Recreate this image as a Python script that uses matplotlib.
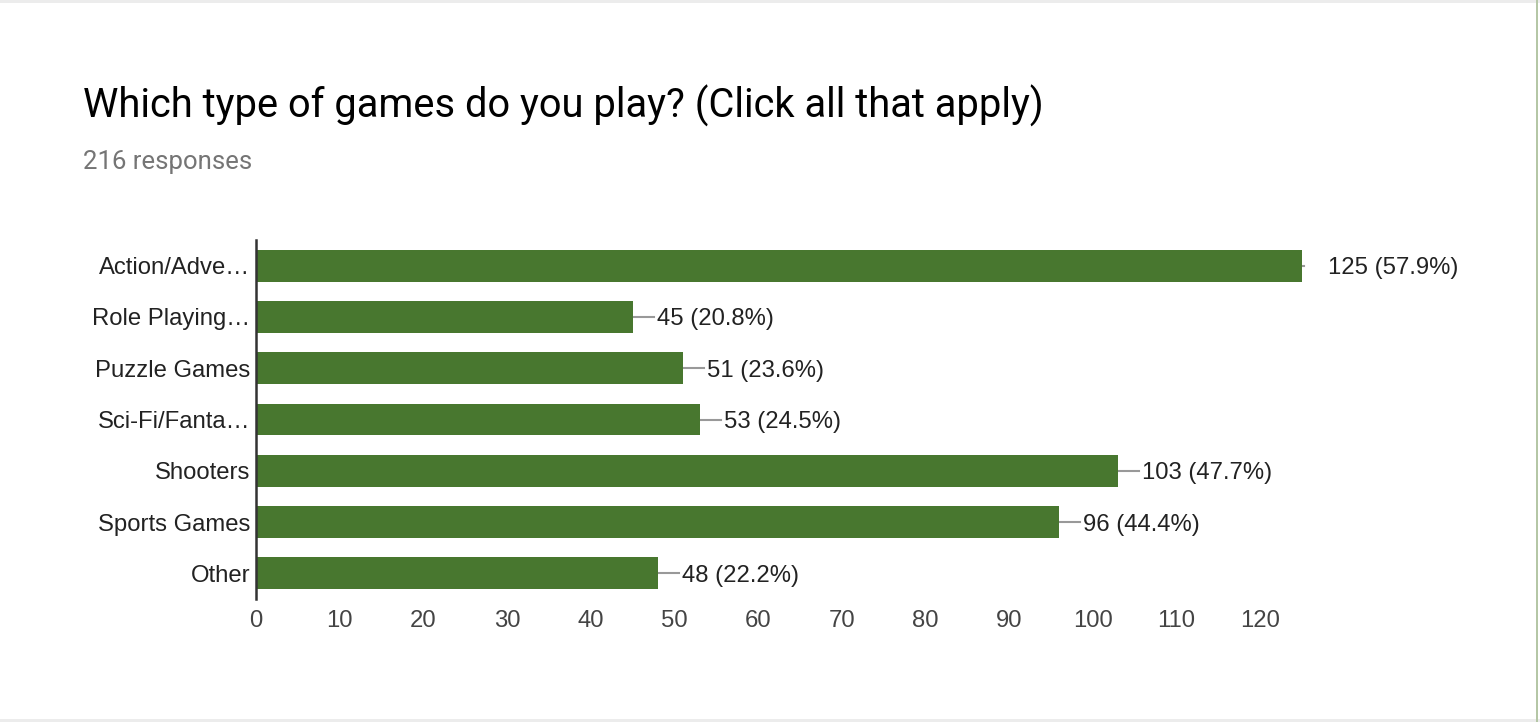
import matplotlib
matplotlib.use("Agg")
import matplotlib.pyplot as plt
from matplotlib.patches import Rectangle
from matplotlib.lines import Line2D

categories = ["Action/Adve…", "Role Playing…", "Puzzle Games", "Sci-Fi/Fanta…",
              "Shooters", "Sports Games", "Other"]
counts = [125, 45, 51, 53, 103, 96, 48]
percents = [57.9, 20.8, 23.6, 24.5, 47.7, 44.4, 22.2]
x_ticks = [0, 10, 20, 30, 40, 50, 60, 70, 80, 90, 100, 110, 120]
total_responses = 216

bar_color = "#48772f"
label_size = 17.2

fig = plt.figure(figsize=(15.4, 7.22), dpi=100)
fig.patch.set_facecolor("white")

# page borders like the screenshot
fig.add_artist(Rectangle((0, 1 - 3 / 722), 1, 3 / 722, transform=fig.transFigure,
                         color="#ececec", lw=0))
fig.add_artist(Rectangle((0, 0), 1, 3 / 722, transform=fig.transFigure,
                         color="#ececec", lw=0))
fig.add_artist(Rectangle((1 - 4 / 1540, 0), 2 / 1540, 1, transform=fig.transFigure,
                         color="#b5c7a6", lw=0))

fig.text(83 / 1540, 1 - 106 / 722, "Which type of games do you play? (Click all that apply)",
         family="Roboto", fontsize=28.7, color="#000000", va="center", ha="left")
fig.text(83 / 1540, 1 - 162 / 722, f"{total_responses} responses",
         family="Roboto", fontsize=18.5, color="#757575", va="center", ha="left")

ax = fig.add_axes([256 / 1540, 1 - 599 / 722, 1046 / 1540, 359 / 722])
y = list(range(len(categories)))
ax.barh(y, counts, height=0.62, color=bar_color, zorder=2)
ax.set_xlim(0, 125)
ax.set_ylim(len(categories) - 0.5, -0.5)

ax.set_yticks(y)
ax.set_yticklabels(categories, family="Liberation Sans", fontsize=label_size,
                   color="#222222")
ax.set_xticks(x_ticks)
ax.set_xticklabels([str(t) for t in x_ticks], family="Liberation Sans",
                   fontsize=label_size, color="#444444")
ax.tick_params(axis="both", length=0)
ax.tick_params(axis="y", pad=4)
ax.tick_params(axis="x", pad=8)

for side in ["top", "right", "bottom"]:
    ax.spines[side].set_visible(False)
ax.spines["left"].set_color("#333333")
ax.spines["left"].set_linewidth(1.8)
ax.spines["left"].set_zorder(3)

top = max(counts)
for yi, c, p in zip(y, counts, percents):
    label = f"{c} ({p}%)"
    if c == top:
        line_len, gap = 2, 24
    else:
        line_len, gap = 21, 3
    # leader line in pixel offsets
    x0, y0 = ax.transData.transform((c, yi))
    inv = ax.transData.inverted()
    x1, _ = inv.transform((x0 + line_len, y0))
    ax.add_line(Line2D([c, x1], [yi, yi], color="#999999", lw=1.5, zorder=1,
                       clip_on=False))
    ax.annotate(label, (c, yi), xytext=(line_len + gap, 0), textcoords="offset pixels",
                va="center_baseline", ha="left", family="Liberation Sans",
                fontsize=label_size, color="#222222", annotation_clip=False)

fig.savefig("out.png", dpi=100, facecolor="white")
